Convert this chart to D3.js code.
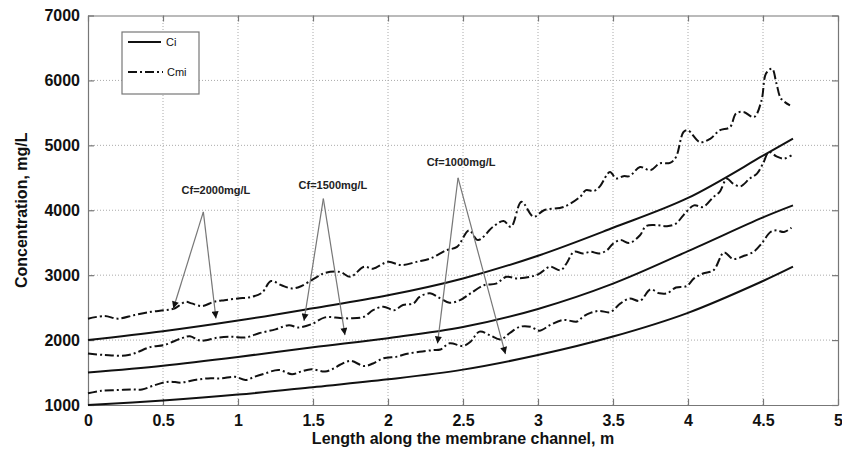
<!DOCTYPE html>
<html>
<head>
<meta charset="utf-8">
<script src="https://cdn.jsdelivr.net/npm/d3@7"></script>
<style>
  body { margin: 0; background: #fff; }
  svg { display: block; font-family: "Liberation Sans", Arial, sans-serif; }
</style>
</head>
<body>
<div class="chart"></div>
<script>
// Ci curves (solid), sampled along the channel
var ciX = [0, 0.5, 1, 1.5, 2, 2.5, 3, 3.5, 4, 4.5, 4.7];
var ci2000 = [2000, 2135, 2300, 2490, 2690, 2950, 3300, 3730, 4190, 4840, 5105];
var ci1500 = [1500, 1605, 1740, 1890, 2030, 2200, 2480, 2870, 3370, 3890, 4075];
var ci1000 = [1000, 1070, 1160, 1275, 1395, 1545, 1770, 2055, 2420, 2910, 3130];

// Cmi curves (dash-dot)
var cmi2000X = [0, 0.11, 0.2, 0.31, 0.42, 0.51, 0.58, 0.65, 0.69, 0.76, 0.84, 0.91, 1.0, 1.09, 1.16, 1.22, 1.29, 1.36, 1.42, 1.51, 1.58, 1.68, 1.75, 1.84, 1.9, 2.0, 2.09, 2.19, 2.28, 2.39, 2.46, 2.54, 2.6, 2.7, 2.77, 2.82, 2.89, 2.97, 3.04, 3.17, 3.28, 3.32, 3.37, 3.41, 3.48, 3.52, 3.57, 3.61, 3.68, 3.75, 3.81, 3.88, 3.92, 3.97, 4.0, 4.08, 4.15, 4.21, 4.28, 4.32, 4.37, 4.44, 4.49, 4.52, 4.56, 4.59, 4.62, 4.68];
var cmi2000 = [2330, 2370, 2330, 2385, 2435, 2460, 2490, 2590, 2565, 2525, 2590, 2615, 2640, 2665, 2730, 2910, 2845, 2795, 2830, 2950, 3035, 3050, 2975, 3130, 3100, 3205, 3155, 3205, 3255, 3385, 3435, 3690, 3540, 3745, 3835, 3745, 4130, 3900, 4000, 4050, 4205, 4310, 4295, 4360, 4590, 4490, 4525, 4525, 4665, 4615, 4720, 4730, 4820, 5205, 5230, 5050, 5105, 5230, 5280, 5490, 5515, 5435, 5690, 6105, 6180, 5950, 5720, 5615];

var cmi1500X = [0, 0.11, 0.27, 0.42, 0.51, 0.62, 0.68, 0.75, 0.87, 0.96, 1.05, 1.14, 1.25, 1.34, 1.4, 1.49, 1.58, 1.68, 1.75, 1.84, 1.9, 1.97, 2.04, 2.1, 2.17, 2.21, 2.28, 2.35, 2.41, 2.48, 2.55, 2.64, 2.72, 2.79, 2.86, 2.95, 3.01, 3.08, 3.15, 3.19, 3.24, 3.3, 3.35, 3.41, 3.46, 3.5, 3.55, 3.61, 3.68, 3.72, 3.79, 3.86, 3.92, 3.97, 4.04, 4.1, 4.17, 4.21, 4.26, 4.3, 4.35, 4.41, 4.46, 4.5, 4.54, 4.59, 4.64, 4.69];
var cmi1500 = [1795, 1770, 1770, 1895, 1925, 2025, 2060, 1990, 2040, 2050, 2040, 2105, 2165, 2230, 2195, 2245, 2350, 2340, 2335, 2360, 2460, 2515, 2460, 2540, 2565, 2665, 2720, 2640, 2575, 2615, 2720, 2845, 2870, 2975, 2950, 2975, 3025, 3130, 3075, 3180, 3360, 3335, 3360, 3335, 3385, 3485, 3540, 3495, 3615, 3755, 3770, 3755, 3795, 3925, 4075, 4050, 4205, 4280, 4485, 4410, 4370, 4485, 4565, 4720, 4895, 4830, 4795, 4845];

var cmi1000X = [0, 0.09, 0.2, 0.29, 0.36, 0.45, 0.54, 0.62, 0.71, 0.8, 0.89, 0.98, 1.05, 1.11, 1.18, 1.27, 1.36, 1.42, 1.49, 1.58, 1.64, 1.68, 1.75, 1.84, 1.9, 1.97, 2.06, 2.12, 2.21, 2.3, 2.35, 2.41, 2.5, 2.55, 2.61, 2.68, 2.75, 2.81, 2.88, 2.95, 3.01, 3.08, 3.17, 3.26, 3.3, 3.35, 3.41, 3.48, 3.55, 3.61, 3.68, 3.75, 3.81, 3.86, 3.92, 3.99, 4.04, 4.1, 4.17, 4.24, 4.3, 4.37, 4.44, 4.49, 4.55, 4.59, 4.64, 4.69];
var cmi1000 = [1180, 1220, 1230, 1240, 1240, 1310, 1360, 1345, 1385, 1410, 1410, 1435, 1385, 1435, 1485, 1540, 1475, 1515, 1550, 1515, 1565, 1620, 1680, 1600, 1640, 1720, 1745, 1785, 1820, 1845, 1855, 1950, 1910, 1975, 2130, 2075, 2010, 2105, 2205, 2205, 2145, 2230, 2310, 2285, 2360, 2420, 2450, 2430, 2565, 2640, 2605, 2780, 2720, 2720, 2810, 2830, 2950, 3025, 3075, 3350, 3250, 3295, 3365, 3485, 3665, 3690, 3665, 3730];

var xTicks = [0, 0.5, 1, 1.5, 2, 2.5, 3, 3.5, 4, 4.5, 5];
var yTicks = [1000, 2000, 3000, 4000, 5000, 6000, 7000];

// annotations: label, label anchor, arrow apex, two arrow tips (data units)
var annLabels = ["Cf=2000mg/L", "Cf=1500mg/L", "Cf=1000mg/L"];
var annText = [[0.853, 4250], [1.633, 4330], [2.487, 4680]];
var annApex = [[0.769, 3974], [1.569, 4180], [2.467, 4500]];
var annTips = [
    [[0.569, 2487], [0.853, 2334]],
    [[1.44, 2297], [1.713, 2077]],
    [[2.33, 1949], [2.783, 1785]]
];

var width = 842, height = 461;
var margin = {top: 15.5, right: 4, bottom: 56, left: 88};

function drawGraph() {
    const svg = d3.select('.chart')
        .append('svg')
        .attr('width', width)
        .attr('height', height);

    var x = d3.scaleLinear().domain([0, 5]).range([margin.left, width - margin.right]);
    var y = d3.scaleLinear().domain([1000, 7000]).range([height - margin.bottom, margin.top]);

    // grid
    svg.append('g')
        .selectAll('line')
        .data(xTicks.slice(1, -1))
        .enter()
        .append('line')
        .attr('x1', d => x(d)).attr('x2', d => x(d))
        .attr('y1', y(1000)).attr('y2', y(7000))
        .attr('stroke', '#aaa').attr('stroke-dasharray', '1,2');

    svg.append('g')
        .selectAll('line')
        .data(yTicks.slice(1, -1))
        .enter()
        .append('line')
        .attr('y1', d => y(d)).attr('y2', d => y(d))
        .attr('x1', x(0)).attr('x2', x(5))
        .attr('stroke', '#aaa').attr('stroke-dasharray', '1,2');

    // axes, ticks pointing in
    svg.append('g')
        .attr('transform', 'translate(0,' + y(1000) + ')')
        .call(d3.axisBottom(x).tickValues(xTicks).tickFormat(d3.format('')).tickSizeInner(-6).tickSizeOuter(0).tickPadding(10));
    svg.append('g')
        .attr('transform', 'translate(' + x(0) + ',0)')
        .call(d3.axisLeft(y).tickValues(yTicks).tickFormat(d3.format('d')).tickSizeInner(-6).tickSizeOuter(0).tickPadding(8));
    svg.append('g')
        .attr('transform', 'translate(0,' + y(7000) + ')')
        .call(d3.axisTop(x).tickValues(xTicks).tickFormat('').tickSizeInner(-6).tickSizeOuter(0));
    svg.append('g')
        .attr('transform', 'translate(' + x(5) + ',0)')
        .call(d3.axisRight(y).tickValues(yTicks).tickFormat('').tickSizeInner(-6).tickSizeOuter(0));

    svg.selectAll('.domain, .tick line').attr('stroke', '#777').attr('stroke-width', 1.2);
    svg.selectAll('.tick text')
        .attr('fill', '#111')
        .style('font-size', '16px')
        .style('font-weight', 'bold');

    // axis titles
    svg.append('text')
        .attr('x', (x(0) + x(5)) / 2)
        .attr('y', 444)
        .attr('text-anchor', 'middle')
        .style('font-size', '16px').style('font-weight', 'bold').attr('fill', '#111')
        .text('Length along the membrane channel, m');

    svg.append('text')
        .attr('transform', 'translate(27,' + (y(1000) + y(7000)) / 2 + ') rotate(-90)')
        .attr('text-anchor', 'middle')
        .style('font-size', '16px').style('font-weight', 'bold').attr('fill', '#111')
        .text('Concentration, mg/L');

    // curves
    var solid = d3.line()
        .x(d => x(d[0])).y(d => y(d[1]))
        .curve(d3.curveCatmullRom.alpha(0.5));
    var wiggly = d3.line()
        .x(d => x(d[0])).y(d => y(d[1]))
        .curve(d3.curveCatmullRom.alpha(0.5));

    [ci2000, ci1500, ci1000].forEach(function(vals) {
        svg.append('path')
            .datum(ciX.map((v, i) => [v, vals[i]]))
            .attr('d', solid)
            .attr('fill', 'none').attr('stroke', '#111').attr('stroke-width', 2);
    });

    [[cmi2000X, cmi2000], [cmi1500X, cmi1500], [cmi1000X, cmi1000]].forEach(function(s) {
        svg.append('path')
            .datum(s[0].map((v, i) => [v, s[1][i]]))
            .attr('d', wiggly)
            .attr('fill', 'none').attr('stroke', '#111').attr('stroke-width', 2)
            .attr('stroke-dasharray', '9,3,2,3');
    });

    // arrow head
    svg.append('defs').append('marker')
        .attr('id', 'head')
        .attr('markerUnits', 'userSpaceOnUse')
        .attr('viewBox', '0 0 10 10')
        .attr('refX', 10).attr('refY', 5)
        .attr('markerWidth', 9).attr('markerHeight', 7)
        .attr('orient', 'auto')
        .append('path')
        .attr('d', 'M0,0L10,5L0,10Z')
        .attr('fill', '#111');

    annLabels.forEach(function(lbl, i) {
        annTips[i].forEach(function(t) {
            svg.append('line')
                .attr('x1', x(annApex[i][0])).attr('y1', y(annApex[i][1]))
                .attr('x2', x(t[0])).attr('y2', y(t[1]))
                .attr('stroke', '#777').attr('stroke-width', 1.2)
                .attr('marker-end', 'url(#head)');
        });
        svg.append('text')
            .attr('x', x(annText[i][0])).attr('y', y(annText[i][1]))
            .attr('text-anchor', 'middle')
            .style('font-size', '11px').style('font-weight', 'bold').attr('fill', '#222')
            .text(lbl);
    });

    // legend
    var lg = svg.append('g');
    lg.append('rect')
        .attr('x', 122).attr('y', 32).attr('width', 77).attr('height', 62)
        .attr('fill', '#fff').attr('stroke', '#777').attr('stroke-width', 1.2);
    lg.append('line').attr('x1', 128).attr('x2', 161).attr('y1', 42).attr('y2', 42)
        .attr('stroke', '#111').attr('stroke-width', 2);
    lg.append('line').attr('x1', 128).attr('x2', 163).attr('y1', 72).attr('y2', 72)
        .attr('stroke', '#111').attr('stroke-width', 2).attr('stroke-dasharray', '9,3,2,3');
    lg.append('text').attr('x', 166).attr('y', 46).style('font-size', '11px').attr('fill', '#111').text('Ci');
    lg.append('text').attr('x', 167).attr('y', 76).style('font-size', '11px').attr('fill', '#111').text('Cmi');
}

drawGraph();
</script>
</body>
</html>
